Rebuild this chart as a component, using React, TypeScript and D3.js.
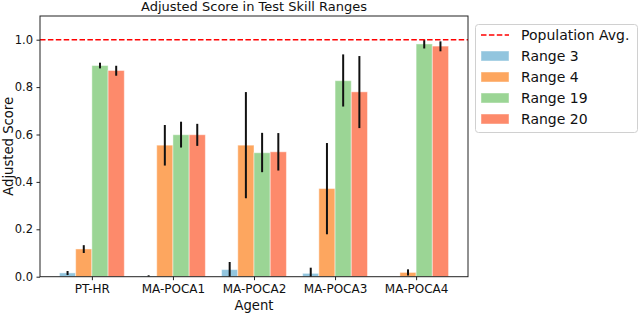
import { useEffect, useRef } from 'react'
import * as d3 from 'd3'

const agents = ['PT-HR', 'MA-POCA1', 'MA-POCA2', 'MA-POCA3', 'MA-POCA4']
const seriesNames = ['Range 3', 'Range 4', 'Range 19', 'Range 20']
const seriesColors = ['#92c5de', '#fda65f', '#9bd595', '#fd8a6b']

// mean scores per agent
const range3 = [0.016, 0.003, 0.030, 0.014, 0.0]
const range4 = [0.117, 0.555, 0.555, 0.372, 0.018]
const range19 = [0.891, 0.599, 0.523, 0.827, 0.982]
const range20 = [0.870, 0.599, 0.527, 0.780, 0.973]

// error bar extents [low, high]
const range3Err = [[0.007, 0.024], [0.001, 0.006], [0.0, 0.062], [0.0, 0.038], [0.0, 0.0]]
const range4Err = [[0.100, 0.133], [0.469, 0.640], [0.331, 0.779], [0.179, 0.564], [0.005, 0.031]]
const range19Err = [[0.879, 0.903], [0.545, 0.654], [0.441, 0.607], [0.718, 0.938], [0.963, 1.001]]
const range20Err = [[0.848, 0.890], [0.552, 0.645], [0.448, 0.606], [0.627, 0.931], [0.951, 0.993]]

const popAvg = 1.0
const yTicks = [0, 0.2, 0.4, 0.6, 0.8, 1.0]

export default function App() {
  const svgRef = useRef(null)

  useEffect(() => {
    if (!svgRef.current) return
    const svg = d3.select(svgRef.current)
    svg.selectAll('*').remove()

    const m = { top: 16, left: 40, right: 468, bottom: 276.7 }
    const font = 'DejaVu Sans, sans-serif'

    const values = [range3, range4, range19, range20]
    const errs = [range3Err, range4Err, range19Err, range20Err]

    // categories at 0..4, bar width 0.2, matplotlib-like margins
    const x = d3.scaleLinear().domain([-0.64, 4.64]).range([m.left, m.right])
    const y = d3.scaleLinear().domain([0, 1.1]).range([m.bottom, m.top])
    const bw = 0.2
    const offsets = [-0.3, -0.1, 0.1, 0.3]

    const g = svg.append('g')

    values.forEach((vals, si) => {
      vals.forEach((v, ai) => {
        const cx = ai + offsets[si]
        g.append('rect')
          .attr('x', x(cx - bw / 2)).attr('y', y(v))
          .attr('width', x(cx + bw / 2) - x(cx - bw / 2))
          .attr('height', y(0) - y(v))
          .attr('fill', seriesColors[si])
          .attr('stroke', 'rgba(255,255,255,0.45)').attr('stroke-width', 1)
      })
    })

    // error bars
    errs.forEach((ee, si) => {
      ee.forEach(([lo, hi], ai) => {
        if (hi - lo <= 0) return
        const cx = x(ai + offsets[si])
        g.append('line')
          .attr('x1', cx).attr('x2', cx)
          .attr('y1', y(lo)).attr('y2', y(hi))
          .attr('stroke', '#111').attr('stroke-width', 2)
      })
    })

    // population average
    g.append('line')
      .attr('x1', m.left).attr('x2', m.right)
      .attr('y1', y(popAvg)).attr('y2', y(popAvg))
      .attr('stroke', '#ff0000').attr('stroke-width', 1.5)
      .attr('stroke-dasharray', '5.5 2.4')

    // frame
    svg.append('rect')
      .attr('x', m.left).attr('y', m.top)
      .attr('width', m.right - m.left).attr('height', m.bottom - m.top)
      .attr('fill', 'none').attr('stroke', '#222').attr('stroke-width', 1)

    // y axis
    svg.append('g').attr('transform', `translate(${m.left},0)`)
      .call(d3.axisLeft(y).tickValues(yTicks).tickFormat(d3.format('.1f')).tickSize(3.5).tickPadding(3.5))
      .call(ax => {
        ax.select('.domain').remove()
        ax.selectAll('line').attr('stroke', '#222')
        ax.selectAll('text').attr('fill', '#111').attr('font-size', 11.5).attr('font-family', font)
      })

    // x axis
    svg.append('g').attr('transform', `translate(0,${m.bottom})`)
      .call(d3.axisBottom(x).tickValues(agents.map((_, i) => i)).tickFormat((d) => agents[d as number]).tickSize(3.5).tickPadding(4))
      .call(ax => {
        ax.select('.domain').remove()
        ax.selectAll('line').attr('stroke', '#222')
        ax.selectAll('text').attr('fill', '#111').attr('font-size', 12).attr('font-family', font)
      })

    svg.append('text')
      .attr('x', (m.left + m.right) / 2).attr('y', 309.5)
      .attr('text-anchor', 'middle').attr('font-size', 13.2).attr('font-family', font).attr('fill', '#111')
      .text('Agent')

    svg.append('text')
      .attr('transform', `translate(13,${(m.top + m.bottom) / 2}) rotate(-90)`)
      .attr('text-anchor', 'middle').attr('font-size', 13.2).attr('font-family', font).attr('fill', '#111')
      .text('Adjusted Score')

    svg.append('text')
      .attr('x', (m.left + m.right) / 2).attr('y', 11)
      .attr('text-anchor', 'middle').attr('font-size', 13).attr('font-family', font).attr('fill', '#111')
      .text('Adjusted Score in Test Skill Ranges')

    // legend
    const lg = svg.append('g')
    lg.append('rect')
      .attr('x', 475.5).attr('y', 24.5).attr('width', 162).attr('height', 108)
      .attr('rx', 3).attr('fill', '#fff').attr('stroke', '#d0d0d0').attr('stroke-width', 1)
    const rowY = (i: number) => 35 + i * 21
    lg.append('line')
      .attr('x1', 481).attr('x2', 509).attr('y1', rowY(0)).attr('y2', rowY(0))
      .attr('stroke', '#ff0000').attr('stroke-width', 1.5).attr('stroke-dasharray', '5.5 2.4')
    lg.append('text')
      .attr('x', 521).attr('y', rowY(0)).attr('dy', '0.35em')
      .attr('font-size', 14).attr('font-family', font).attr('fill', '#111')
      .text('Population Avg.')
    seriesNames.forEach((name, i) => {
      const cy = rowY(i + 1)
      lg.append('rect')
        .attr('x', 481).attr('y', cy - 5).attr('width', 28).attr('height', 10)
        .attr('fill', seriesColors[i])
        .attr('stroke', 'rgba(255,255,255,0.45)').attr('stroke-width', 1)
      lg.append('text')
        .attr('x', 521).attr('y', cy).attr('dy', '0.35em')
        .attr('font-size', 14).attr('font-family', font).attr('fill', '#111')
        .text(name)
    })
  }, [])

  return <svg ref={svgRef} width={640} height={313} style={{ position: 'absolute', left: 0, top: 0 }} />
}
